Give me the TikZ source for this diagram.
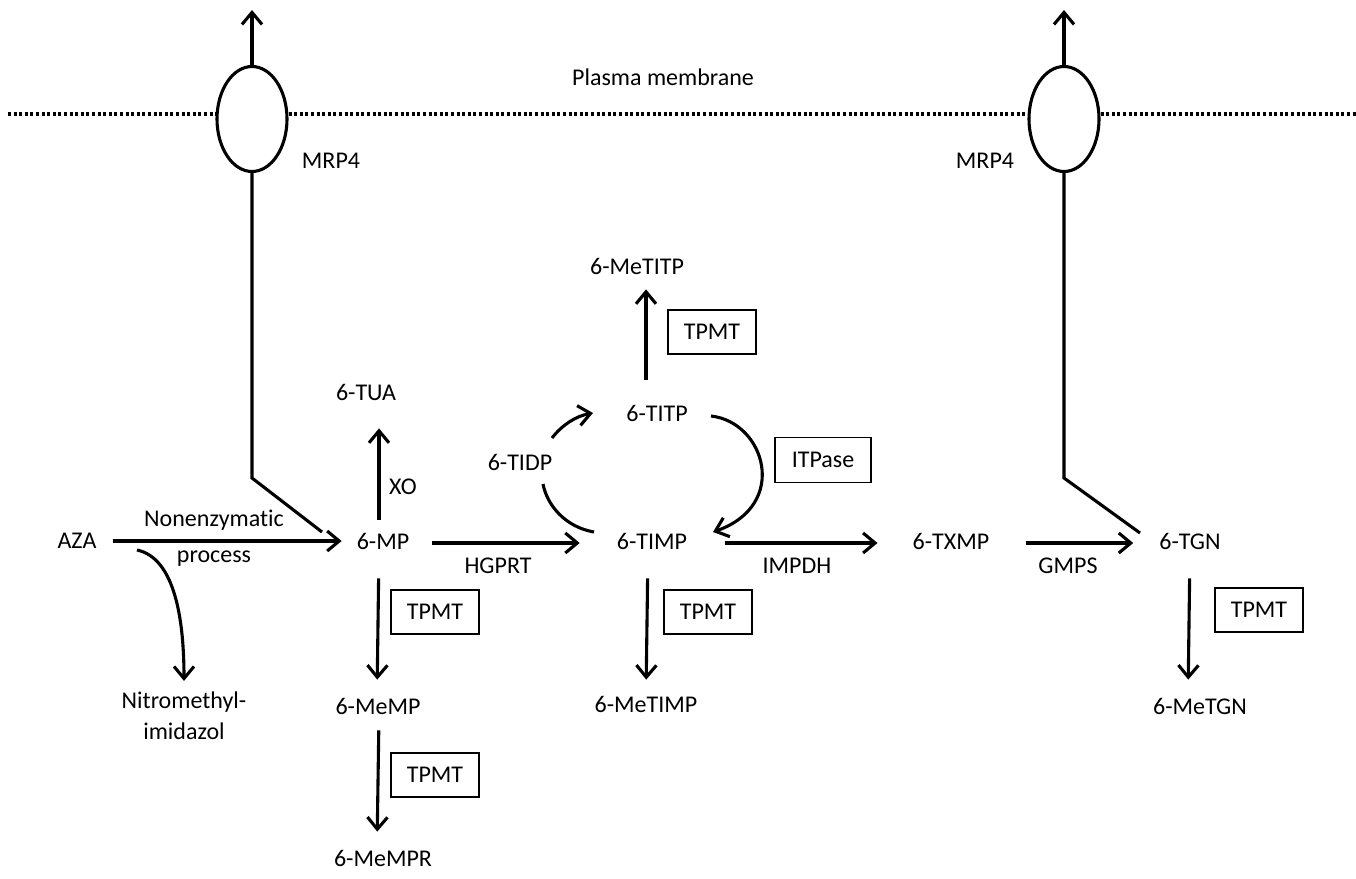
\documentclass[tikz,border=0pt]{standalone}
\usepackage{fontspec}
\setmainfont{Carlito}[Ligatures=NoCommon]
\usetikzlibrary{arrows.meta,shapes.geometric}
\begin{document}
\begin{tikzpicture}[x=1pt,y=-1pt,
  lbl/.style={font=\fontsize{24}{31}\selectfont, inner sep=0pt},
  enz/.style={draw, line width=1.5pt, font=\fontsize{24}{29}\selectfont, minimum width=88pt, minimum height=44pt, inner sep=0pt},
  arr/.style={line width=3.1pt, -{Straight Barb[length=12pt,width=20pt]}},
  ln/.style={line width=3.1pt},
  memb/.style={line width=3.2pt, dash pattern=on 3pt off 2.6pt},
  chan/.style={ellipse, draw, line width=3.1pt, minimum width=70pt, minimum height=105pt, inner sep=0pt}]
\useasboundingbox (0,0) rectangle (1356,878);
% membrane and transporters
\node[chan] (ea) at (252,119) {};
\node[chan] (eb) at (1064,119) {};
\coordinate (ml) at (8,114);
\coordinate (mr) at (1356,114);
\draw[memb] (ml) -- (ml -| ea.west);
\draw[memb] (ml -| ea.east) -- (ml -| eb.west);
\draw[memb] (ml -| eb.east) -- (mr);
\node[lbl] (pm) at (663,77) {Plasma membrane};
\node[lbl] (mrpa) at (331,161) {MRP4};
\node[lbl] (mrpb) at (985,161) {MRP4};
\coordinate (topa) at (252,10);
\coordinate (topb) at (1064,10);
\draw[arr] (ea.north) -- (topa);
\draw[arr] (eb.north) -- (topb);
% metabolites
\node[lbl] (aza) at (77,541) {AZA};
\node[lbl] (mp) at (383,541) {6-MP};
\node[lbl] (tua) at (366,392) {6-TUA};
\node[lbl] (xo) at (403,487) {XO};
\node[lbl] (timp) at (652,541) {6-TIMP};
\node[lbl] (tidp) at (520,462) {6-TIDP};
\node[lbl] (titp) at (657,413) {6-TITP};
\node[lbl] (metitp) at (637,266) {6-MeTITP};
\node[lbl] (txmp) at (951,541) {6-TXMP};
\node[lbl] (tgn) at (1190,541) {6-TGN};
\node[lbl] (metgn) at (1200,706) {6-MeTGN};
\node[lbl] (metimp) at (646,704) {6-MeTIMP};
\node[lbl] (memp) at (378,706) {6-MeMP};
\node[lbl] (mempr) at (383,858) {6-MeMPR};
\node[lbl, align=center] (nitro) at (184,716) {Nitromethyl-\\imidazol};
\node[lbl, align=center, font=\fontsize{24}{36}\selectfont] (nonenz) at (214,538) {Nonenzymatic\\process};
\node[lbl] (hgprt) at (498,566) {HGPRT};
\node[lbl] (impdh) at (797,566) {IMPDH};
\node[lbl] (gmps) at (1068,566) {GMPS};
% enzymes
\node[enz] (tpmta) at (712,332) {TPMT};
\node[enz, minimum width=96pt, minimum height=45pt] (itpase) at (823,460) {ITPase};
\node[enz] (tpmtb) at (708,612) {TPMT};
\node[enz] (tpmtc) at (1259,610) {TPMT};
\node[enz] (tpmtd) at (435,612) {TPMT};
\node[enz] (tpmte) at (435,775) {TPMT};
% transporter lines
\coordinate (benda) at (252,478);
\coordinate (enda) at (322,532);
\coordinate (bendb) at (1064,478);
\coordinate (endb) at (1140,533);
\draw[ln] (ea.south) -- (benda) -- (enda);
\draw[ln] (eb.south) -- (bendb) -- (endb);
% horizontal reactions
\draw[arr, shorten <=16pt, shorten >=15pt] (aza.east) -- (aza.east -| mp.west);
\draw[arr, shorten <=23pt, shorten >=37pt] ([yshift=-2pt]mp.east) -- ([yshift=-2pt]mp.east -| timp.west);
\draw[arr, shorten <=38pt, shorten >=35pt] ([yshift=-2pt]timp.east) -- ([yshift=-2pt]timp.east -| txmp.west);
\draw[arr, shorten <=36pt, shorten >=26pt] ([yshift=-2pt]txmp.east) -- ([yshift=-2pt]txmp.east -| tgn.west);
% vertical reactions
\draw[arr, shorten <=13pt, shorten >=28pt] ([xshift=-4pt]mp.north) -- ([xshift=-4pt]mp.north |- tua.south);
\draw[arr, shorten <=29pt, shorten >=18pt] ([xshift=-4pt]mp.south) -- ([xshift=-1pt]memp.north);
\draw[arr, shorten <=16pt, shorten >=18pt] ([xshift=1pt]memp.south) -- ([xshift=-6pt]mempr.north);
\draw[arr, shorten <=29pt, shorten >=16pt] ([xshift=-4pt]timp.south) -- (metimp.north);
\draw[arr, shorten <=29pt, shorten >=18pt] (tgn.south) -- ([xshift=-12pt]metgn.north);
\draw[arr, shorten <=25pt, shorten >=15pt] ([xshift=-11pt]titp.north) -- ([xshift=9pt]metitp.south);
% cycle curves
\draw[arr] ([shift={(32,-24)}]tidp.center) .. controls ([shift={(42,-37)}]tidp.center) and ([shift={(56,-46)}]tidp.center) .. ([shift={(-64,0)}]titp.center);
\draw[ln] ([shift={(23,22)}]tidp.center) .. controls ([shift={(27,43)}]tidp.center) and ([shift={(-87,-14)}]timp.center) .. ([shift={(-58,-9)}]timp.center);
\draw[arr] ([shift={(54,3)}]titp.center) .. controls ([shift={(108,9)}]titp.center) and ([shift={(133,92)}]titp.center) .. ([shift={(61,-9)}]timp.center);
\draw[arr] ([shift={(60,9)}]aza.center) .. controls ([shift={(98,17)}]aza.center) and ([shift={(107,79)}]aza.center) .. ([yshift=11pt]nitro.north);
\end{tikzpicture}
\end{document}
